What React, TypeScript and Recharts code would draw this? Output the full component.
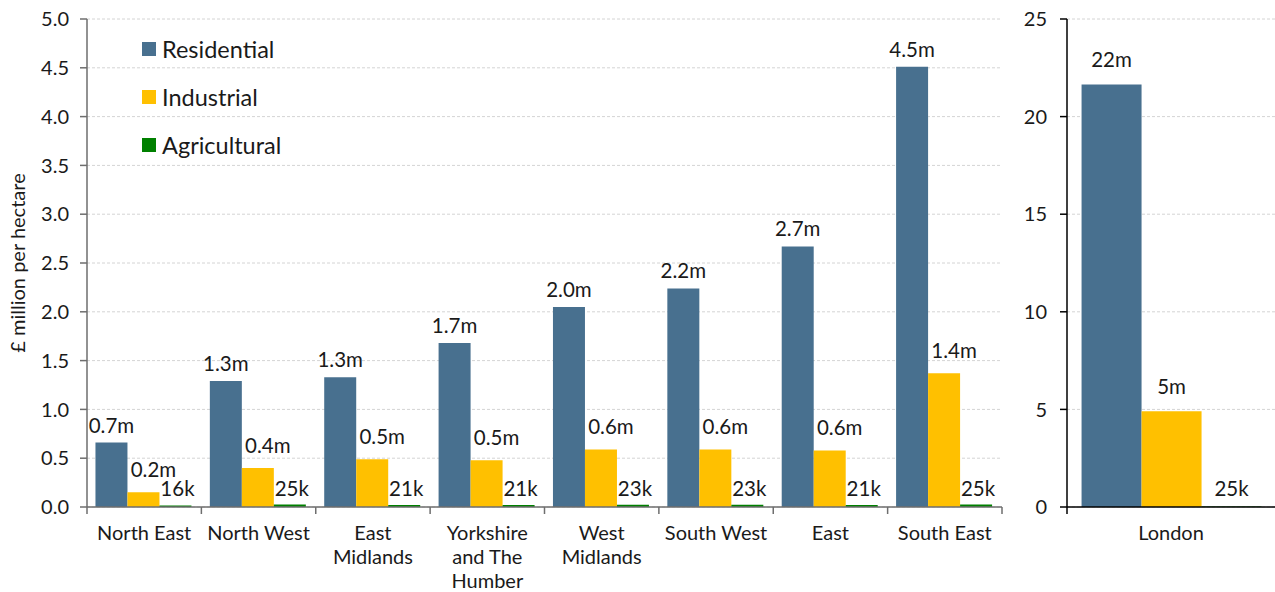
import React from 'react'
import {
  BarChart, Bar, XAxis, YAxis, CartesianGrid, Legend, LabelList,
} from 'recharts'

const regions = [
  'North East', 'North West', 'East\nMidlands', 'Yorkshire\nand The\nHumber',
  'West\nMidlands', 'South West', 'East', 'South East',
]
const residential = [0.66, 1.29, 1.33, 1.68, 2.05, 2.24, 2.67, 4.51]
const industrial = [0.15, 0.40, 0.49, 0.48, 0.59, 0.59, 0.58, 1.37]
const agricultural = [0.016, 0.025, 0.021, 0.021, 0.023, 0.023, 0.021, 0.025]
const resLabels = ['0.7m', '1.3m', '1.3m', '1.7m', '2.0m', '2.2m', '2.7m', '4.5m']
const indLabels = ['0.2m', '0.4m', '0.5m', '0.5m', '0.6m', '0.6m', '0.6m', '1.4m']
const agrLabels = ['16k', '25k', '21k', '21k', '23k', '23k', '21k', '25k']
const seriesNames = ['Residential', 'Industrial', 'Agricultural']

const londonCat = ['London']
const londonRes = [21.65]
const londonInd = [4.91]
const londonAgr = [0.025]
const londonResLbl = ['22m']
const londonIndLbl = ['5m']
const londonAgrLbl = ['25k']

const leftTicks = [0, 0.5, 1, 1.5, 2, 2.5, 3, 3.5, 4, 4.5, 5]
const rightTicks = [0, 5, 10, 15, 20, 25]

const C_RES = '#48708f'
const C_IND = '#ffc000'
const C_AGR = '#008000'
const FONT = 'Lato, "Open Sans", sans-serif'
const INK = '#1a1a1a'

const regionData = regions.map((r, i) => ({
  region: r,
  res: residential[i], ind: industrial[i], agr: agricultural[i],
  resL: resLabels[i], indL: indLabels[i], agrL: agrLabels[i],
}))
const londonData = londonCat.map((r, i) => ({
  region: r,
  res: londonRes[i], ind: londonInd[i], agr: londonAgr[i],
  resL: londonResLbl[i], indL: londonIndLbl[i], agrL: londonAgrLbl[i],
}))

const barLabel = (lift: number, dx: number) => (p: any) => {
  const cx = Number(p.x) + Number(p.width) / 2 + dx
  return (
    <text x={cx} y={Number(p.y) - lift} textAnchor="middle"
      fontSize={20.5} fontFamily={FONT} fill={INK}>
      {p.value}
    </text>
  )
}

const makeXTick = (band: number, count: number, color: string) => (p: any) => {
  const lines = String(p.payload.value).split('\n')
  const left = p.x - band / 2
  return (
    <g>
      <line x1={left} x2={left} y1={p.y} y2={p.y + 7} stroke={color} strokeWidth={1.5} />
      {p.index === count - 1 && (
        <line x1={p.x + band / 2} x2={p.x + band / 2} y1={p.y} y2={p.y + 7}
          stroke={color} strokeWidth={1.5} />
      )}
      <text x={p.x} y={p.y + 33} textAnchor="middle" fontSize={20} fontFamily={FONT} fill={INK}>
        {lines.map((l, i) => (
          <tspan key={i} x={p.x} dy={i === 0 ? 0 : 24}>{l}</tspan>
        ))}
      </text>
    </g>
  )
}

const LegendBox = (props: any) => {
  const items = [...(props.payload || [])].sort(
    (a: any, b: any) => seriesNames.indexOf(a.value) - seriesNames.indexOf(b.value))
  return (
    <div style={{ fontFamily: FONT, fontSize: 23.5, color: INK }}>
      {items.map((e: any) => (
        <div key={e.value} style={{ height: 48, display: 'flex', alignItems: 'center' }}>
          <span style={{ width: 14, height: 14, background: e.color, marginRight: 6, display: 'inline-block' }} />
          {e.value}
        </div>
      ))}
    </div>
  )
}

const yTitle = (p: any) => {
  const vb = p.viewBox || { y: 19, height: 488 }
  const cy = vb.y + vb.height / 2
  return (
    <text x={17} y={cy} transform={`rotate(-90, 17, ${cy})`} textAnchor="middle"
      dominantBaseline="central" fontSize={20} fontFamily={FONT} fill={INK}>
      £ million per hectare
    </text>
  )
}

export default function App() {
  const leftBand = 915 / regions.length
  const rightBand = 208
  const tickStyle = { fontSize: 20, fontFamily: FONT, fill: INK }
  return (
    <div style={{ position: 'absolute', left: 0, top: 0, width: 1275, height: 592, display: 'flex', background: '#fff' }}>
      <BarChart width={1010} height={592} data={regionData} barCategoryGap="7.4%" barGap={0}
        margin={{ top: 19, right: 8, bottom: 0, left: 0 }}>
        <CartesianGrid vertical={false} stroke="#d4d4d4" strokeDasharray="3 2" />
        <XAxis dataKey="region" height={85} interval={0} tickLine={false} tickSize={0}
          tickMargin={0} axisLine={{ stroke: '#6e6e6e', strokeWidth: 1.5 }}
          tick={makeXTick(leftBand, regions.length, '#6e6e6e')} />
        <YAxis width={87} domain={[0, 5]} ticks={leftTicks} interval={0}
          tickFormatter={(v: number) => v.toFixed(1)} tickSize={7} tickMargin={11}
          tick={tickStyle} axisLine={{ stroke: '#6e6e6e', strokeWidth: 1.5 }}
          tickLine={{ stroke: '#6e6e6e', strokeWidth: 1.5 }}
          label={{ content: yTitle }} />
        <Legend layout="vertical" align="center" verticalAlign="middle" content={LegendBox}
          wrapperStyle={{ position: 'absolute', top: 25, left: 142, width: 240, height: 150 }} />
        <Bar dataKey="res" name="Residential" fill={C_RES} isAnimationActive={false}>
          <LabelList dataKey="resL" content={barLabel(10, 0)} />
        </Bar>
        <Bar dataKey="ind" name="Industrial" fill={C_IND} isAnimationActive={false}>
          <LabelList dataKey="indL" content={barLabel(15, 10)} />
        </Bar>
        <Bar dataKey="agr" name="Agricultural" fill={C_AGR} isAnimationActive={false}>
          <LabelList dataKey="agrL" content={barLabel(9, 2)} />
        </Bar>
      </BarChart>
      <BarChart width={265} height={592} data={londonData} barCategoryGap="7%" barGap={0}
        margin={{ top: 19, right: 0, bottom: 0, left: 0 }}>
        <CartesianGrid vertical={false} stroke="#d4d4d4" strokeDasharray="3 2" />
        <XAxis dataKey="region" height={85} interval={0} tickLine={false} tickSize={0}
          tickMargin={0} axisLine={{ stroke: '#000', strokeWidth: 1.5 }}
          tick={makeXTick(rightBand, 0, '#000')} />
        <YAxis width={57} domain={[0, 25]} ticks={rightTicks} interval={0}
          tickSize={7} tickMargin={13} tick={tickStyle}
          axisLine={{ stroke: '#000', strokeWidth: 1.5 }}
          tickLine={{ stroke: '#000', strokeWidth: 1.5 }} />
        <Bar dataKey="res" fill={C_RES} isAnimationActive={false}>
          <LabelList dataKey="resL" content={barLabel(17, 0)} />
        </Bar>
        <Bar dataKey="ind" fill={C_IND} isAnimationActive={false}>
          <LabelList dataKey="indL" content={barLabel(17, 0)} />
        </Bar>
        <Bar dataKey="agr" fill={C_AGR} isAnimationActive={false}>
          <LabelList dataKey="agrL" content={barLabel(11, 0)} />
        </Bar>
      </BarChart>
    </div>
  )
}
